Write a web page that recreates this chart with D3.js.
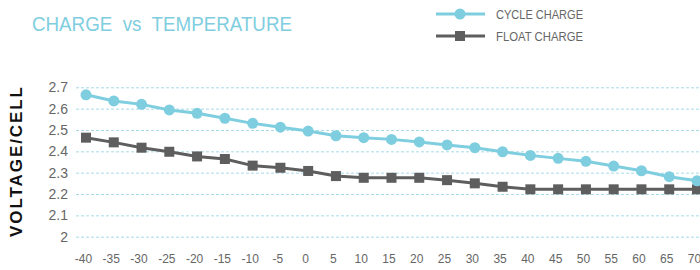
<!DOCTYPE html>
<html>
<head>
<meta charset="utf-8">
<script src="https://cdn.jsdelivr.net/npm/d3@7"></script>
<style>
  body { margin: 0; background: #fff; }
  svg { display: block; font-family: "Liberation Sans", Arial, sans-serif; }
</style>
</head>
<body>
<div class="chart"></div>
<script>
const temps = [-40, -35, -30, -25, -20, -15, -10, -5, 0, 5, 10, 15, 20, 25, 30, 35, 40, 45, 50, 55, 60, 65, 70];
const cycleCharge = [2.665, 2.636, 2.62, 2.594, 2.578, 2.555, 2.531, 2.513, 2.495, 2.473, 2.464, 2.456, 2.444, 2.43, 2.417, 2.398, 2.381, 2.367, 2.353, 2.331, 2.309, 2.281, 2.262];
const floatCharge = [2.464, 2.442, 2.417, 2.398, 2.376, 2.364, 2.333, 2.323, 2.308, 2.284, 2.276, 2.276, 2.276, 2.265, 2.25, 2.234, 2.222, 2.222, 2.222, 2.222, 2.222, 2.222, 2.222];
const yTicks = [2, 2.1, 2.2, 2.3, 2.4, 2.5, 2.6, 2.7];

const width = 700;
const height = 270;
const cyan = '#7ecee0';
const grey = '#5e5e5e';

const svg = d3.select('.chart').append('svg')
    .attr('width', width)
    .attr('height', height);

const x = d3.scalePoint().domain(temps).range([86, 697]);
const y = d3.scaleLinear().domain([2, 2.7]).range([236.7, 87.3]);

// title
svg.append('text')
    .attr('x', 32)
    .attr('y', 31)
    .attr('fill', cyan)
    .attr('font-size', 21)
    .style('white-space', 'pre')
    .attr('textLength', 260)
    .attr('lengthAdjust', 'spacingAndGlyphs')
    .text('CHARGE  vs  TEMPERATURE');

// gridlines + y labels
const yAxis = d3.axisLeft(y)
    .tickValues(yTicks)
    .tickSize(-(width - 76))
    .tickFormat(d3.format('~g'));

const gy = svg.append('g')
    .attr('transform', 'translate(76,0)')
    .call(yAxis);
gy.select('.domain').remove();
gy.selectAll('.tick line')
    .attr('stroke', '#a6dbe8')
    .attr('stroke-width', 1)
    .attr('stroke-dasharray', '3,2');
gy.selectAll('.tick text')
    .attr('x', -8)
    .attr('fill', '#666')
    .attr('font-size', 14)
    .attr('font-family', '"Liberation Sans", Arial, sans-serif');

// x labels
const xAxis = d3.axisBottom(x).tickSize(0);
const gx = svg.append('g')
    .attr('transform', 'translate(-3,251)')
    .call(xAxis);
gx.select('.domain').remove();
gx.selectAll('.tick text')
    .attr('fill', '#666')
    .attr('font-size', 12)
    .attr('font-family', '"Liberation Sans", Arial, sans-serif');

// y title
svg.append('text')
    .attr('transform', 'translate(22,162) rotate(-90)')
    .attr('text-anchor', 'middle')
    .attr('fill', '#111')
    .attr('font-weight', 'bold')
    .attr('font-size', 17)
    .attr('textLength', 150)
    .attr('lengthAdjust', 'spacing')
    .text('VOLTAGE/CELL');

const line = d3.line().x((d, i) => x(temps[i])).y(d => y(d));

// float charge
svg.append('path')
    .datum(floatCharge)
    .attr('fill', 'none')
    .attr('stroke', grey)
    .attr('stroke-width', 3)
    .attr('d', line);
svg.selectAll('rect.float')
    .data(floatCharge)
    .join('rect')
    .attr('class', 'float')
    .attr('x', (d, i) => x(temps[i]) - 5)
    .attr('y', d => y(d) - 5)
    .attr('width', 10)
    .attr('height', 10)
    .attr('fill', grey);

// cycle charge
svg.append('path')
    .datum(cycleCharge)
    .attr('fill', 'none')
    .attr('stroke', cyan)
    .attr('stroke-width', 3)
    .attr('d', line);
svg.selectAll('circle.cycle')
    .data(cycleCharge)
    .join('circle')
    .attr('class', 'cycle')
    .attr('cx', (d, i) => x(temps[i]))
    .attr('cy', d => y(d))
    .attr('r', 5.5)
    .attr('fill', cyan);

// legend
const legend = [
    { name: 'CYCLE CHARGE', color: cyan, shape: 'circle' },
    { name: 'FLOAT CHARGE', color: grey, shape: 'square' }
];
const lg = svg.selectAll('g.legend')
    .data(legend)
    .join('g')
    .attr('class', 'legend')
    .attr('transform', (d, i) => `translate(436,${14 + i * 22})`);
lg.append('line')
    .attr('x1', 0)
    .attr('x2', 49)
    .attr('stroke', d => d.color)
    .attr('stroke-width', 3);
lg.filter(d => d.shape === 'circle').append('circle')
    .attr('cx', 24)
    .attr('r', 5.5)
    .attr('fill', d => d.color);
lg.filter(d => d.shape === 'square').append('rect')
    .attr('x', 19)
    .attr('y', -5)
    .attr('width', 10)
    .attr('height', 10)
    .attr('fill', d => d.color);
lg.append('text')
    .attr('x', 60)
    .attr('y', 4.5)
    .attr('fill', '#666')
    .attr('font-size', 12)
    .attr('textLength', 87)
    .attr('lengthAdjust', 'spacingAndGlyphs')
    .text(d => d.name);
</script>
</body>
</html>
